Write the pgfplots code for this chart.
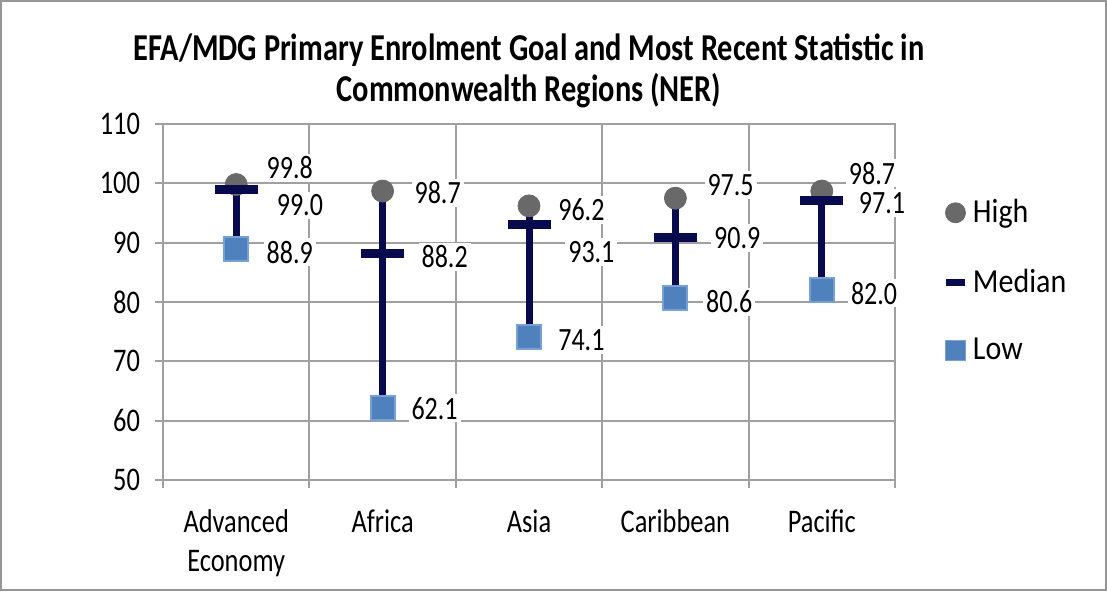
\documentclass[border=0pt]{standalone}
\usepackage{graphicx}
\usepackage{fontspec}
\setmainfont{Carlito}
\usepackage{pgfplots}
\usepackage{pgfplotstable}
\pgfplotsset{compat=1.18}
\definecolor{navy}{RGB}{8,10,78}
\definecolor{hicol}{RGB}{105,105,105}
\definecolor{lofill}{RGB}{79,129,189}
\definecolor{loedge}{RGB}{120,160,212}
\definecolor{gridc}{RGB}{160,160,160}
\definecolor{framec}{RGB}{150,150,150}
\newcommand{\st}[1]{\scalebox{1}[1.25]{#1}}
\newcommand{\stl}[1]{\scalebox{1}[1.12]{#1}}

\pgfplotstableread{
x high median low
0.5 99.8 99.0 88.9
1.5 98.7 88.2 62.1
2.5 96.2 93.1 74.1
3.5 97.5 90.9 80.6
4.5 98.7 97.1 82.0
}\data

\pgfplotstableread{
x y label
0.866 102.6 99.8
0.935 96.3 99.0
0.866 88.4 88.9
1.876 98.4 98.7
1.924 87.6 88.2
1.855 62.1 62.1
2.858 95.5 96.2
2.926 88.4 93.1
2.858 73.6 74.1
3.877 99.7 97.5
3.922 90.8 90.9
3.868 80.0 80.6
4.843 101.7 98.7
4.911 96.7 97.1
4.857 81.5 82.0
}\labels

\begin{document}
\begin{tikzpicture}
\useasboundingbox (0,0) rectangle (553.5pt,295.5pt);
\draw[framec, line width=1pt] (0.5pt,0.5pt) rectangle (553pt,295pt);
\begin{axis}[
  at={(81.5pt,55.5pt)}, anchor=south west,
  scale only axis, width=366pt, height=178pt,
  xmin=0, xmax=5, ymin=50, ymax=110,
  clip=false,
  axis line style={gridc, line width=1pt},
  xtick={0.5,1.5,2.5,3.5,4.5},
  xticklabels={{\st{Advanced}\\\st{Economy}},\st{Africa},\st{Asia},\st{Caribbean},\st{Pacific}},
  minor xtick={0,1,2,3,4,5},
  ytick={50,60,70,80,90,100,110},
  yticklabels={\st{50},\st{60},\st{70},\st{80},\st{90},\st{100},\st{110}},
  ymajorgrids, xminorgrids,
  grid style={gridc, line width=1pt},
  minor grid style={gridc, line width=1pt},
  tick align=outside,
  major tick length=4pt, minor tick length=4pt,
  tick style={gridc, line width=1pt},
  major x tick style={draw=none},
  xtick pos=bottom, ytick pos=left,
  tick label style={font=\fontsize{13.2}{19.5}\selectfont},
  xticklabel style={align=center, anchor=north, yshift=-7.5pt},
  yticklabel style={anchor=east, xshift=-4pt},
  title={\st{EFA/MDG Primary Enrolment Goal and Most Recent Statistic in}\\\st{Commonwealth Regions (NER)}},
  title style={font=\bfseries\fontsize{15.2}{20.5}\selectfont, align=center, anchor=south, at={(0.5,1)}, yshift=-1.5pt},
  legend style={draw=none, fill=none, at={(1.065,0.80)}, anchor=north west,
    font=\fontsize{15}{18}\selectfont, row sep=17.5pt, inner sep=0pt},
  legend cell align=left,
]
% high-low lines
\addplot[only marks, mark=none, forget plot,
  error bars/.cd, y dir=minus, y explicit,
  error bar style={draw=navy, line width=3.5pt}, error mark=none]
  table[x=x, y=high, y error expr=\thisrow{high}-\thisrow{low}] {\data};
% High
\addplot[only marks, mark=*, mark size=5.5pt, mark options={fill=hicol, draw=hicol},
  legend image code/.code={\fill[hicol] (5pt,0pt) circle (5pt);}]
  table[x=x, y=high] {\data};
\addlegendentry{\stl{High}}
% Median
\addplot[only marks, mark=-, mark size=10.75pt, mark options={draw=navy, line width=4.5pt},
  legend image code/.code={\draw[navy, line width=3.5pt] (0.5pt,0pt) -- (10pt,0pt);}]
  table[x=x, y=median] {\data};
\addlegendentry{\stl{Median}}
% Low
\addplot[only marks, mark=square*, mark size=6pt, mark options={fill=lofill, draw=loedge, line width=1pt},
  legend image code/.code={\filldraw[fill=lofill, draw=loedge, line width=0.8pt] (0pt,-5pt) rectangle (10pt,5pt);}]
  table[x=x, y=low] {\data};
\addlegendentry{\stl{Low}}
% labels
\addplot[draw=none, mark=none, forget plot,
  nodes near coords={\st{\pgfplotspointmeta}},
  point meta=explicit symbolic,
  nodes near coords style={anchor=center, fill=white, inner sep=1.5pt, font=\fontsize{13}{15}\selectfont}]
  table[x=x, y=y, meta=label] {\labels};
\end{axis}
\end{tikzpicture}
\end{document}
